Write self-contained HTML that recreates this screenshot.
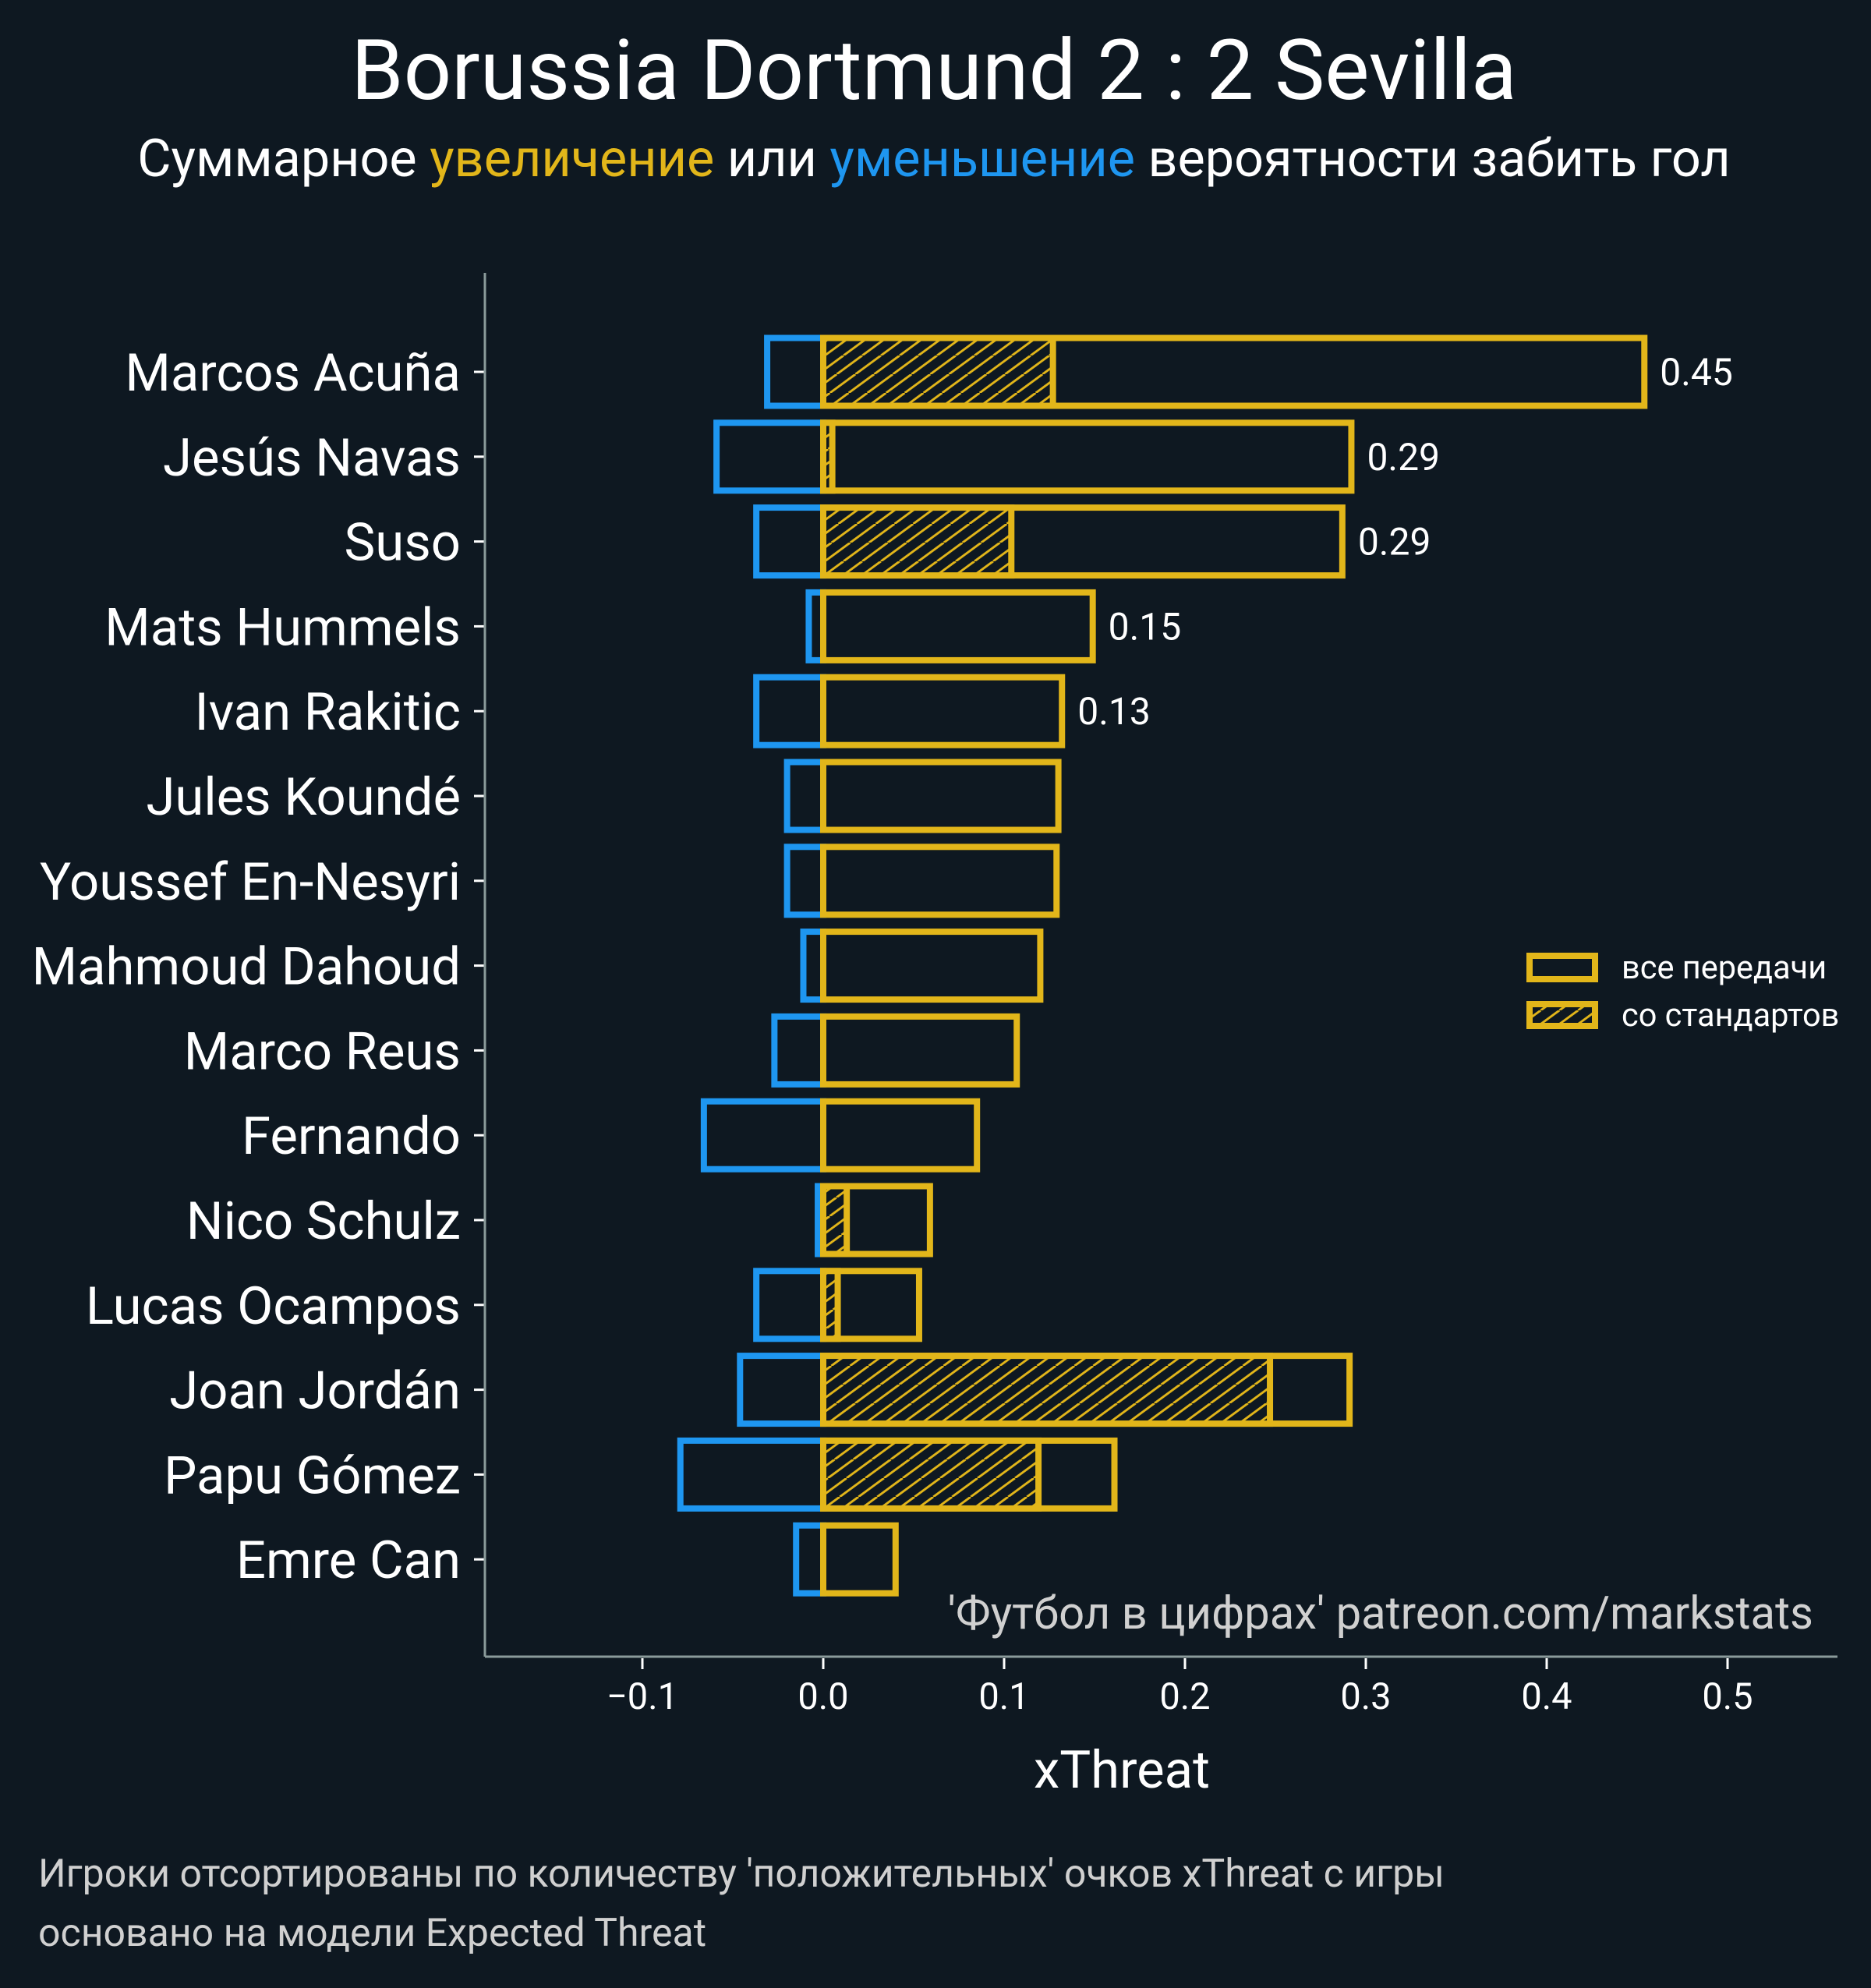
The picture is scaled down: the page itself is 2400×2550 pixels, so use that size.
<!DOCTYPE html>
<html><head><meta charset="utf-8"><style>
html,body{margin:0;padding:0;background:#0e1821;}
svg{display:block;font-family:"Roboto","Liberation Sans","DejaVu Sans",sans-serif;}
</style></head><body>
<svg id="chart" width="2400" height="2550" viewBox="0 0 2400 2550" xmlns="http://www.w3.org/2000/svg">
<defs>
<pattern id="hatch" patternUnits="userSpaceOnUse" width="24" height="24" patternTransform="skewX(-20)">
<rect width="24" height="24" fill="#0e1821"/>
<line x1="0" y1="24" x2="24" y2="0" stroke="#e2b61a" stroke-width="3.5"/>
<line x1="-24" y1="24" x2="0" y2="0" stroke="#e2b61a" stroke-width="3.5"/>
<line x1="24" y1="24" x2="48" y2="0" stroke="#e2b61a" stroke-width="3.5"/>
</pattern>
</defs>
<rect width="2400" height="2550" fill="#0e1821"/>
<text x="1198" y="127" text-anchor="middle" font-size="108" fill="#ffffff">Borussia Dortmund 2 : 2 Sevilla</text>
<text x="1198" y="226" text-anchor="middle" font-size="66.5" fill="#ffffff">Суммарное <tspan fill="#e2b61a">увеличение</tspan> или <tspan fill="#1e96f0">уменьшение</tspan> вероятности забить гол</text>
<g id="bars"></g>
<g id="yaxis"></g>
<g id="xaxis"></g>
<line x1="622" y1="350" x2="622" y2="2125" stroke="#8a9a9a" stroke-width="3"/>
<line x1="622" y1="2125" x2="2357" y2="2125" stroke="#8a9a9a" stroke-width="3"/>
<text x="1439" y="2293" text-anchor="middle" font-size="67" fill="#ffffff">xThreat</text>
<text x="2326" y="2089" text-anchor="end" font-size="58" fill="#d0d0d0">'Футбол в цифрах' patreon.com/markstats</text>
<g>
<rect x="1962" y="1226" width="84" height="30" fill="none" stroke="#e2b61a" stroke-width="8"/>
<text x="2080" y="1255" font-size="41.5" fill="#ffffff">все передачи</text>
<rect x="1962" y="1288" width="84" height="28" fill="url(#hatch)" stroke="#e2b61a" stroke-width="8"/>
<text x="2080" y="1316" font-size="41.5" fill="#ffffff">со стандартов</text>
</g>
<text x="49" y="2420" font-size="50" fill="#d0d0d0">Игроки отсортированы по количеству 'положительных' очков xThreat с игры</text>
<text x="49" y="2496" font-size="50" fill="#d0d0d0">основано на модели Expected Threat</text>
</svg>
<script>
const players = ["Marcos Acuña","Jesús Navas","Suso","Mats Hummels","Ivan Rakitic","Jules Koundé","Youssef En-Nesyri","Mahmoud Dahoud","Marco Reus","Fernando","Nico Schulz","Lucas Ocampos","Joan Jordán","Papu Gómez","Emre Can"];
const positive = [0.454,0.292,0.287,0.149,0.132,0.130,0.129,0.120,0.107,0.085,0.059,0.053,0.291,0.161,0.040];
const negative = [-0.031,-0.059,-0.037,-0.008,-0.037,-0.020,-0.020,-0.011,-0.027,-0.066,-0.003,-0.037,-0.046,-0.079,-0.015];
const setPiece = [0.127,0.005,0.104,0,0,0,0,0,0,0,0.013,0.008,0.247,0.119,0];
const valueLabels = ["0.45","0.29","0.29","0.15","0.13"];
const xTicks = [-0.1,0,0.1,0.2,0.3,0.4,0.5];
const xTickLabels = ["−0.1","0.0","0.1","0.2","0.3","0.4","0.5"];

const NS="http://www.w3.org/2000/svg";
function xs(v){return 1056+v*2320;}
function ys(i){return 477+i*108.8;}
const BH=87;
function mk(tag,attrs,parent){const e=document.createElementNS(NS,tag);for(const k in attrs)e.setAttribute(k,attrs[k]);parent.appendChild(e);return e;}
const bars=document.getElementById('bars'),ya=document.getElementById('yaxis'),xa=document.getElementById('xaxis');
players.forEach((p,i)=>{
  const cy=ys(i);
  const n=mk('rect',{x:xs(negative[i]),y:cy-BH/2,width:xs(0)-xs(negative[i]),height:BH,fill:'none',stroke:'#1e96f0','stroke-width':8},bars);
  
  
  const b=mk('rect',{x:xs(0),y:cy-BH/2,width:xs(positive[i])-xs(0),height:BH,fill:'none',stroke:'#e2b61a','stroke-width':8},bars);
  
  
  if(setPiece[i]>0){
    const h=mk('rect',{x:xs(0),y:cy-BH/2,width:xs(setPiece[i])-xs(0),height:BH,fill:'url(#hatch)',stroke:'#e2b61a','stroke-width':8},bars);
    
    
  }
  if(i<valueLabels.length){
    const t=mk('text',{x:xs(positive[i])+20,y:cy+17,'font-size':48,fill:'#ffffff'},bars);
    t.textContent=valueLabels[i];
    
    
  }
  const tk=mk('line',{x1:608,x2:622,y1:cy,y2:cy,stroke:'#ffffff','stroke-width':3},ya);
  
  
  const l=mk('text',{x:591,y:cy+24,'text-anchor':'end','font-size':67,fill:'#ffffff'},ya);
  l.textContent=p;
  
  
});
xTicks.forEach((v,i)=>{
  const tk=mk('line',{x1:xs(v),x2:xs(v),y1:2127,y2:2141,stroke:'#ffffff','stroke-width':3},xa);
  
  
  const t=mk('text',{x:xs(v),y:2192,'text-anchor':'middle','font-size':47,fill:'#ffffff'},xa);
  t.textContent=xTickLabels[i];
  
  
});
</script>
</body></html>
